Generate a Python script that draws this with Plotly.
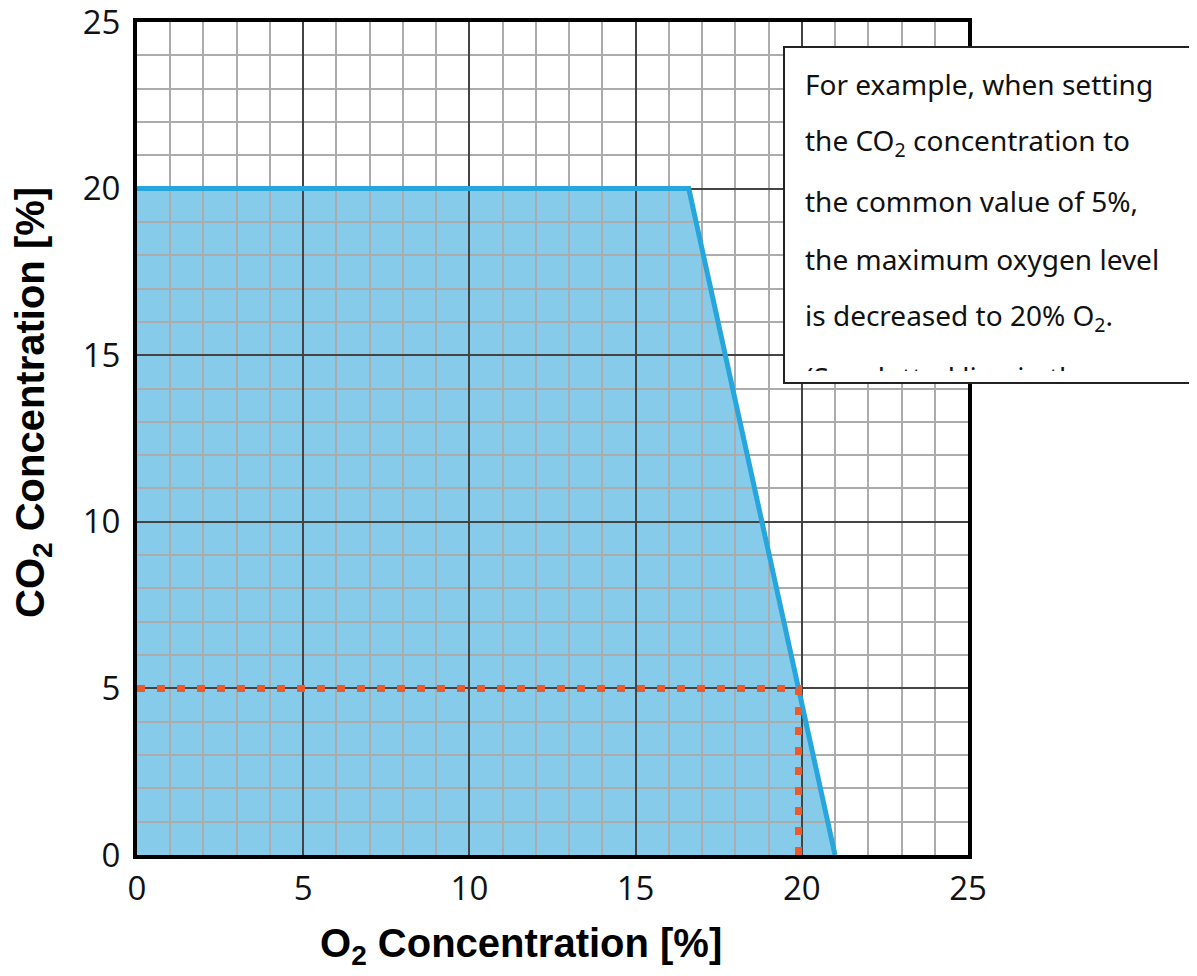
import plotly.graph_objects as go

# ---- data ----
limit_o2 = [0, 16.6, 21.0]          # O2 concentration [%] of the limit curve
limit_co2 = [20, 20, 0]             # CO2 concentration [%] of the limit curve
example_o2 = [0, 19.9, 19.9]        # dotted example path
example_co2 = [5, 5, 0]
x_ticks = [0, 5, 10, 15, 20, 25]
y_ticks = [0, 5, 10, 15, 20, 25]
note_lines = [
    "For example, when setting",
    "the CO<sub>2</sub> concentration to",
    "the common value of 5%,",
    "the maximum oxygen level",
    "is decreased to 20% O<sub>2</sub>.",
    "(See dotted line in the",
]

W, H = 1197, 976
OFF = 8  # page body margin
# plot area in page pixels
PL, PR, PT, PB = 137, 968, 22, 855
L, R, T, B = PL - OFF, PR - OFF, PT - OFF, PB - OFF


def px_x(p):
    return (p - OFF - L) / (R - L)


def px_y(p):
    return (B - (p - OFF)) / (B - T)


fig = go.Figure()

# fill area (subplot 1, below the grid of subplot 2)
fig.add_trace(go.Scatter(x=limit_o2, y=limit_co2, mode="lines", fill="tozeroy",
                         fillcolor="#87cbeb", line=dict(width=0, color="#87cbeb"),
                         xaxis="x", yaxis="y", hoverinfo="skip", showlegend=False))

# curve and example on subplot 2
fig.add_trace(go.Scatter(x=limit_o2, y=limit_co2, mode="lines",
                         line=dict(color="#27a6dd", width=5),
                         xaxis="x2", yaxis="y2", showlegend=False))
fig.add_trace(go.Scatter(x=example_o2, y=example_co2, mode="lines",
                         line=dict(color="#ec5a2c", width=7, dash="8px,12px"),
                         xaxis="x2", yaxis="y2", showlegend=False))

hidden = dict(range=[0, 25], showgrid=False, zeroline=False, showticklabels=False,
              showline=False, ticks="", domain=[0, 1], fixedrange=True, automargin=False)
fig.update_layout(
    xaxis=dict(**hidden, anchor="y"),
    yaxis=dict(**hidden, anchor="x"),
)

tickfont = dict(family="Open Sans", size=33, color="#111")
common = dict(range=[0, 25], dtick=5, tick0=0, showgrid=True, gridcolor="#444444", gridwidth=2,
              minor=dict(dtick=1, showgrid=True, gridcolor="#acacac", gridwidth=2),
              zeroline=False, showline=True, linecolor="#000", linewidth=4, mirror=True,
              ticks="", tickfont=tickfont, domain=[0, 1], layer="above traces",
              ticklabeloverflow="allow", automargin=False)
fig.update_layout(
    xaxis2=dict(**common, anchor="y2", tickvals=x_ticks, ticklabelstandoff=1),
    yaxis2=dict(**common, anchor="x2", tickvals=y_ticks, ticklabelstandoff=6),
)

# note box
fig.add_shape(type="rect", xref="paper", yref="paper",
              x0=px_x(784), x1=px_x(1196), y0=px_y(383), y1=px_y(47),
              fillcolor="white", line=dict(color="#222", width=2), layer="above")

note_font = dict(family="Noto Sans", size=28, color="#111")
baselines = [95, 153, 212, 270, 328]
for txt, bl in zip(note_lines[:5], baselines):
    fig.add_annotation(xref="paper", yref="paper", x=px_x(805), y=px_y(bl - 11),
                       xanchor="left", yanchor="middle", text=txt, showarrow=False,
                       font=note_font, align="left", borderpad=0, borderwidth=0)
# clipped last line
fig.add_annotation(xref="paper", yref="paper", x=px_x(805), y=px_y(358),
                   xanchor="left", yanchor="top", text=note_lines[5], showarrow=False,
                   font=note_font, align="left", valign="top", height=13,
                   borderpad=0, borderwidth=0)

# axis titles
title_font = dict(family="Liberation Sans", size=40, color="#000")
fig.add_annotation(xref="paper", yref="paper", x=px_x(521), y=px_y(946),
                   xanchor="center", yanchor="middle", showarrow=False,
                   text="<b>O<sub>2</sub> Concentration [%]</b>", font=title_font)
fig.add_annotation(xref="paper", yref="paper", x=px_x(33), y=px_y(403),
                   xanchor="center", yanchor="middle", showarrow=False, textangle=-90,
                   text="<b>CO<sub>2</sub> Concentration [%]</b>", font=title_font)

fig.update_layout(width=W, height=H, margin=dict(l=L, r=W - R, t=T, b=H - B, autoexpand=False),
                  paper_bgcolor="white", plot_bgcolor="rgba(0,0,0,0)", showlegend=False)

fig.write_html("out.html")
